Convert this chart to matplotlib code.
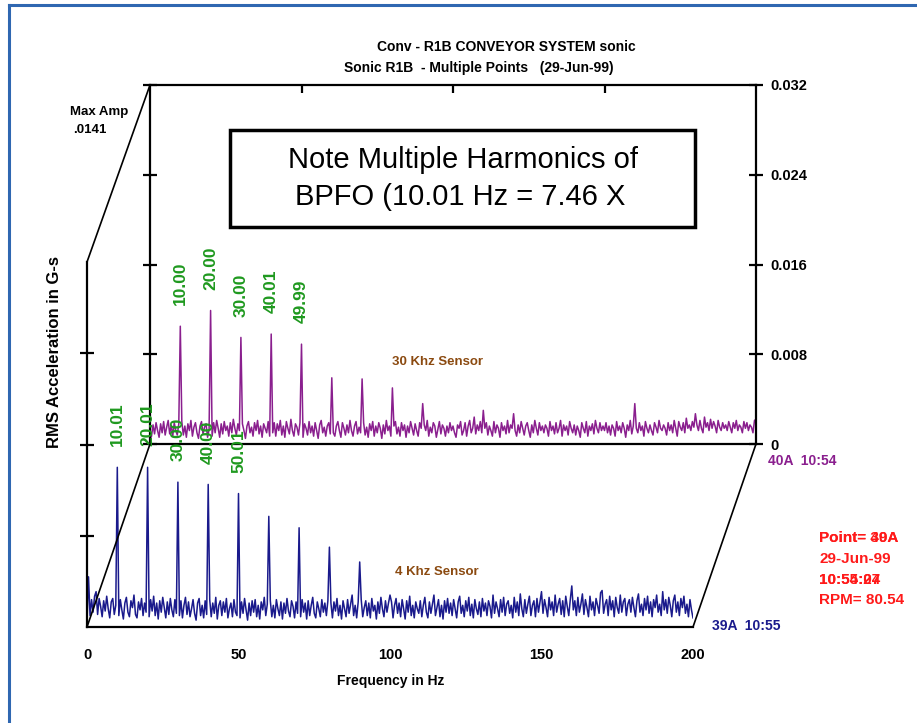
import matplotlib
matplotlib.use('Agg')
import matplotlib.pyplot as plt
from matplotlib.patches import ConnectionPatch, Rectangle
from matplotlib.lines import Line2D
import numpy as np

plt.rcParams['font.family'] = ['Liberation Sans Narrow', 'Liberation Sans', 'DejaVu Sans']

W, H = 917, 723


def px(x, y):
    # pixel position (from top-left) -> figure fraction
    return x / W, 1 - y / H


# spectra: 0 - 200 Hz, amplitudes in units of 1e-4 G
front_noise = [
    5, 44, 10, 24, 13, 27, 31, 11, 25, 18, 9, 23, 14, 27, 16, 8, 22, 25, 11, 19,
    17, 10, 24, 15, 7, 21, 26, 13, 9, 23, 17, 28, 11, 8, 22, 15, 25, 10, 21, 13,
    18, 9, 24, 14, 27, 10, 21, 7, 23, 13, 26, 17, 8, 22, 11, 25, 15, 9, 24, 12,
    20, 10, 23, 8, 19, 26, 11, 22, 9, 16, 24, 12, 6, 21, 25, 10, 19, 8, 23, 11,
    16, 24, 9, 21, 12, 26, 7, 19, 23, 10, 22, 13, 25, 8, 16, 21, 9, 24, 13, 10,
    19, 8, 22, 12, 25, 15, 6, 21, 10, 23, 13, 24, 9, 19, 7, 22, 15, 26, 10, 20,
    14, 23, 9, 19, 8, 24, 16, 10, 22, 7, 21, 12, 25, 14, 9, 23, 18, 8, 22, 12,
    16, 9, 24, 13, 21, 7, 23, 10, 19, 26, 12, 8, 22, 16, 9, 24, 13, 21, 10, 23,
    12, 21, 8, 22, 14, 25, 10, 19, 7, 23, 16, 9, 24, 12, 20, 28, 10, 19, 8, 22,
    14, 24, 9, 17, 23, 10, 21, 8, 25, 14, 19, 7, 22, 12, 26, 16, 9, 23, 13, 21,
    11, 22, 8, 19, 25, 12, 21, 9, 24, 16, 7, 23, 13, 27, 10, 19, 8, 22, 16, 12,
    23, 9, 19, 26, 13, 8, 22, 12, 20, 28, 10, 17, 24, 9, 19, 7, 23, 13, 25, 12,
    21, 10, 24, 16, 8, 22, 27, 12, 19, 9, 23, 14, 26, 10, 20, 8, 24, 16, 11, 22,
    9, 25, 14, 21, 10, 23, 18, 8, 28, 12, 22, 16, 9, 24, 13, 26, 10, 20, 23, 12,
    19, 8, 26, 13, 22, 10, 29, 16, 9, 24, 12, 20, 27, 10, 19, 23, 9, 25, 13, 22,
    31, 12, 24, 17, 9, 26, 15, 22, 10, 28, 13, 20, 25, 11, 23, 9, 27, 18, 10, 24,
    36, 15, 23, 10, 26, 13, 20, 29, 11, 24, 17, 9, 27, 15, 22, 10, 25, 19, 12, 30,
    32, 12, 20, 24, 10, 27, 15, 23, 9, 26, 17, 12, 28, 13, 22, 25, 10, 20, 24, 13,
    26, 17, 9, 23, 29, 13, 20, 10, 25, 15, 27, 12, 22, 9, 24, 17, 28, 13, 20, 10,
    31, 15, 24, 12, 26, 19, 9, 23, 28, 13, 22, 10, 25, 17, 27, 12, 20, 9, 24, 15,
    8,
]
back_noise = [
    4, 7, 17, 9, 19, 12, 6, 18, 10, 20, 8, 15, 21, 9, 17, 7, 19, 12, 8, 18,
    10, 20, 8, 16, 6, 18, 12, 21, 7, 15, 19, 10, 5, 16, 20, 9, 15, 18, 6, 13,
    17, 7, 19, 10, 21, 14, 6, 18, 9, 20, 12, 16, 7, 19, 10, 22, 14, 8, 18, 12,
    9, 18, 12, 5, 16, 20, 10, 15, 7, 19, 12, 21, 9, 16, 6, 18, 14, 10, 20, 7,
    15, 10, 19, 7, 18, 12, 21, 8, 16, 6, 20, 14, 9, 22, 12, 7, 18, 15, 8, 19,
    12, 6, 18, 14, 8, 20, 10, 16, 7, 19, 12, 5, 17, 21, 10, 15, 7, 16, 19, 9,
    18, 10, 7, 16, 20, 12, 6, 19, 14, 8, 17, 10, 21, 12, 7, 16, 20, 9, 15, 10,
    12, 19, 8, 15, 6, 18, 12, 20, 7, 16, 10, 19, 14, 5, 17, 9, 21, 12, 16, 7,
    10, 16, 20, 9, 15, 7, 19, 12, 17, 6, 16, 10, 20, 14, 8, 18, 12, 7, 19, 14,
    9, 17, 12, 21, 7, 15, 10, 19, 16, 6, 13, 20, 9, 17, 14, 7, 16, 10, 19, 12,
    16, 10, 6, 17, 14, 20, 8, 12, 19, 7, 16, 21, 10, 14, 24, 9, 17, 12, 20, 10,
    30, 14, 19, 8, 16, 12, 7, 20, 10, 17, 14, 6, 19, 12, 16, 9, 21, 10, 17, 14,
    27, 12, 7, 17, 10, 20, 14, 8, 16, 19, 12, 6, 17, 10, 21, 14, 8, 19, 12, 16,
    10, 17, 14, 7, 20, 12, 16, 9, 19, 10, 14, 21, 7, 17, 12, 16, 8, 20, 14, 10,
    17, 8, 16, 12, 6, 19, 14, 10, 20, 7, 16, 12, 18, 9, 21, 14, 10, 19, 12, 16,
    12, 19, 10, 16, 8, 17, 14, 7, 20, 12, 16, 10, 19, 14, 6, 17, 12, 21, 9, 16,
    36, 14, 10, 19, 12, 16, 7, 20, 14, 10, 17, 12, 8, 19, 15, 10, 21, 14, 12, 17,
    14, 8, 19, 12, 17, 10, 21, 14, 7, 20, 15, 12, 19, 10, 23, 14, 17, 12, 20, 15,
    27, 17, 12, 21, 14, 10, 24, 15, 19, 12, 22, 14, 20, 16, 10, 21, 15, 12, 19, 14,
    17, 12, 20, 15, 10, 19, 14, 21, 12, 17, 15, 10, 20, 14, 19, 12, 17, 15, 10, 21,
    22,
]

harm_freqs = [10.01, 20.01, 30.0, 40.0, 50.01, 60.0, 70.0, 80.0, 90.0, 100.0]
front_peaks = [140, 140, 127, 125, 117, 97, 87, 70, 57, 28]
back_peaks = [105, 119, 95, 98, 89, 59, 58, 50, 36]
front_labels = ['10.01', '20.01', '30.00', '40.00', '50.01']
back_labels = ['10.00', '20.00', '30.00', '40.01', '49.99']

x_ticks = [0, 50, 100, 150, 200]
y_ticks = [0, 0.008, 0.016, 0.024, 0.032]
y_tick_labels = ['0', '0.008', '0.016', '0.024', '0.032']


def build(noise, peaks):
    amp = np.array(noise, dtype=float) * 1e-4
    freqs = np.linspace(0, 200, len(amp))
    for f, a in zip(harm_freqs, peaks):
        i = int(round(f / 200 * (len(amp) - 1)))
        amp[i] = a * 1e-4
    return freqs, amp


front_f, front_a = build(front_noise, front_peaks)
back_f, back_a = build(back_noise, back_peaks)

green = '#1f991f'
brown = '#8b4a10'
purple = '#8a1f8e'
navy = '#1a1a8c'

fig = plt.figure(figsize=(W / 100, H / 100), dpi=100)

back = fig.add_axes([150 / W, 1 - 444 / H, 606 / W, 359 / H], zorder=0.5)
front = fig.add_axes([87 / W, 1 - 627 / H, 606 / W, 365 / H], zorder=0.6)

for ax in (back, front):
    ax.set_xlim(0, 200)
    ax.set_ylim(0, 0.032)
    ax.patch.set_visible(False)
    for s in ax.spines.values():
        s.set_linewidth(1.6)

# back spectrum (30 kHz sensor)
back.plot(back_f, back_a, color=purple, lw=1.1)
back.set_xticks([50, 100, 150])
back.tick_params(axis='x', bottom=False, top=True, labelbottom=False,
                 direction='in', length=6, width=1.6)
back.set_yticks(y_ticks)
back.set_yticklabels(y_tick_labels)
back.tick_params(axis='y', left=True, right=True, labelleft=False, labelright=True,
                 direction='inout', length=10, width=1.6, pad=5, labelsize=10.5)
for lab in back.get_yticklabels():
    lab.set_fontweight('bold')
back.text(80, 0.0073, '30 Khz Sensor', color=brown, fontsize=9.5, va='center',
          fontweight='bold')
for f, a, lab in zip(harm_freqs, back_peaks, back_labels):
    back.annotate(lab, (f, a * 1e-4), xytext=(0, 15), textcoords='offset points',
                  rotation=90, ha='center', va='bottom', color=green,
                  fontsize=12.5, fontweight='bold', family='Liberation Sans',
                  annotation_clip=False)

# front spectrum (4 kHz sensor)
front.spines['top'].set_visible(False)
front.spines['right'].set_visible(False)
front.plot(front_f, front_a, color=navy, lw=1.1)
front.set_xticks(x_ticks)
front.set_xticks([50, 100, 150], minor=True)
front.tick_params(axis='x', which='major', length=0, pad=15, labelsize=10.5)
front.tick_params(axis='x', which='minor', direction='in', length=6, width=1.6)
for lab in front.get_xticklabels():
    lab.set_fontweight('bold')
front.set_yticks([0.008, 0.016, 0.024])
front.tick_params(axis='y', labelleft=False, direction='inout', length=10, width=1.6)
front.text(101.5, 0.0048, '4 Khz Sensor', color=brown, fontsize=9.5, va='center',
           fontweight='bold')
for f, a, lab in zip(harm_freqs, front_peaks, front_labels):
    front.annotate(lab, (f, a * 1e-4), xytext=(0, 15), textcoords='offset points',
                   rotation=90, ha='center', va='bottom', color=green,
                   fontsize=12.5, fontweight='bold', family='Liberation Sans',
                   annotation_clip=False)

# depth lines joining the two spectra
for a_xy in [(0, 1), (0, 0), (1, 0)]:
    con = ConnectionPatch(xyA=a_xy, coordsA=front.transAxes, xyB=a_xy,
                          coordsB=back.transAxes, color='black', lw=1.2)
    fig.add_artist(con)

# slide frame
fig.add_artist(Line2D([9 / W, 9 / W], [0, 1 - 5 / H], transform=fig.transFigure,
                      color='#2f67b1', lw=2.2))
fig.add_artist(Line2D([9 / W, 1], [1 - 5 / H, 1 - 5 / H], transform=fig.transFigure,
                      color='#2f67b1', lw=2.2))

# titles and labels
fig.text(*px(506, 47), 'Conv - R1B CONVEYOR SYSTEM sonic', ha='center', va='center',
         fontsize=10, fontweight='bold')
fig.text(*px(479, 68), 'Sonic R1B  - Multiple Points   (29-Jun-99)', ha='center',
         va='center', fontsize=10, fontweight='bold')
fig.text(*px(70, 112), 'Max Amp', ha='left', va='center', fontsize=9.5, fontweight='bold')
fig.text(*px(73, 130), '.0141', ha='left', va='center', fontsize=9.5, fontweight='bold')
fig.text(*px(55, 352), 'RMS Acceleration in G-s', rotation=90, ha='center',
         va='center', fontsize=12, fontweight='bold', family='Liberation Sans')
fig.text(*px(391, 681), 'Frequency in Hz', ha='center', va='center', fontsize=10,
         fontweight='bold')
fig.text(*px(768, 461), '40A  10:54', ha='left', va='center', fontsize=10,
         color=purple, fontweight='bold')
fig.text(*px(712, 626), '39A  10:55', ha='left', va='center', fontsize=10,
         color=navy, fontweight='bold')

red = '#ff1a1a'
for y, txt in [(538, 'Point= 39A'), (538, 'Point= 40A'), (559, '29-Jun-99'),
               (580, '10:55:27'), (580, '10:54:04'), (600, 'RPM= 80.54')]:
    fig.text(*px(819, y), txt, ha='left', va='center', fontsize=11, color=red,
             fontweight='bold')

# note box
fig.add_artist(Rectangle(px(230, 227), 465 / W, 97 / H, transform=fig.transFigure,
                         facecolor='white', edgecolor='black', lw=2.5, zorder=3))
fig.text(*px(463, 160), 'Note Multiple Harmonics of', ha='center', va='center',
         fontsize=21, family='Liberation Sans', zorder=4)
fig.text(*px(460, 197), 'BPFO (10.01 Hz = 7.46 X', ha='center', va='center',
         fontsize=21, family='Liberation Sans', zorder=4)

fig.savefig('out.png', dpi=100)
